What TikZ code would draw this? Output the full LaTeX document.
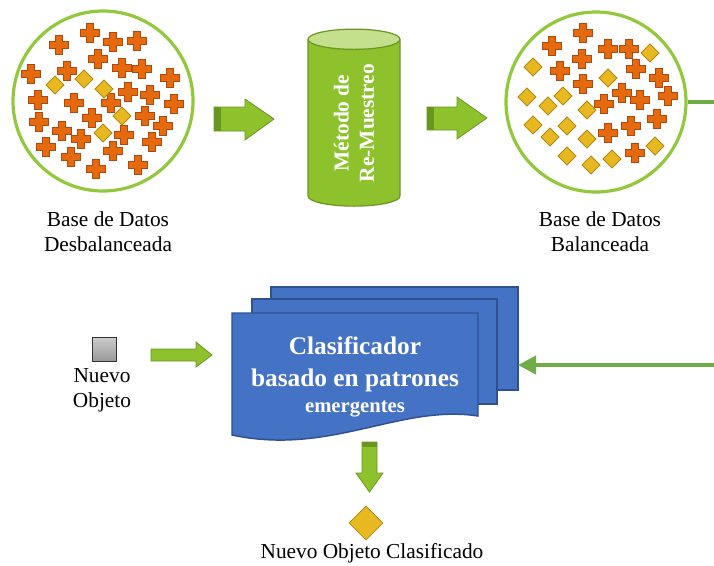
\documentclass[tikz,border=0pt]{standalone}
\usepackage{fontspec}
\setmainfont{Liberation Serif}
\usetikzlibrary{arrows.meta,shapes.geometric}
\definecolor{verdelima}{RGB}{141,194,45}
\definecolor{verdeosc}{RGB}{104,150,32}
\definecolor{verdeclaro}{RGB}{196,224,140}
\definecolor{verdeborde}{RGB}{146,200,60}
\definecolor{verdelinea}{RGB}{112,173,71}
\definecolor{naranja}{RGB}{229,106,14}
\definecolor{naranjaosc}{RGB}{178,72,12}
\definecolor{oro}{RGB}{231,184,32}
\definecolor{oroosc}{RGB}{178,138,18}
\definecolor{azuldoc}{RGB}{68,114,196}
\definecolor{azulosc}{RGB}{47,82,143}

\begin{document}
\begin{tikzpicture}[x=0.75pt,y=-0.75pt,
  base/.style={circle,draw=verdeborde,fill=white,line width=2.4pt,minimum size=135pt,inner sep=0pt},
  lbl/.style={font=\fontsize{16}{18.75}\selectfont,align=center,inner sep=0pt},
  cil/.style={cylinder,rotate=90,aspect=0.5,draw=verdeosc,line width=0.9pt,
    cylinder uses custom fill,cylinder body fill=verdelima,cylinder end fill=verdeclaro,
    minimum height=132.75pt,minimum width=69pt,inner sep=0pt,
    text=white,align=center,font=\fontsize{16}{19}\selectfont\bfseries},
  bloque/.style={fill=verdelima,draw=verdeosc,line width=0.6pt},
  franja/.style={fill=verdeosc,draw=none},
  doc/.style={rectangle,fill=azuldoc,draw=azulosc,line width=1.1pt,inner sep=0pt},
  obj/.style={rectangle,top color=gray!40,bottom color=gray!80,draw=black!80,
    line width=0.6pt,minimum size=18pt,inner sep=0pt},
  res/.style={diamond,fill=oro,draw=oroosc,line width=0.6pt,minimum width=25.5pt,
    minimum height=25.5pt,inner sep=0pt},
  ar/.style={-{Triangle[length=13.5pt,width=13.5pt]},verdelinea,line width=3pt},
  cruz/.pic={\draw[fill=naranja,draw=naranjaosc,line width=0.6pt]
    (-9.5,-3.2) -- (-3.2,-3.2) -- (-3.2,-9.5) -- (3.2,-9.5) -- (3.2,-3.2) -- (9.5,-3.2)
    -- (9.5,3.2) -- (3.2,3.2) -- (3.2,9.5) -- (-3.2,9.5) -- (-3.2,3.2) -- (-9.5,3.2) -- cycle;},
  rombo/.pic={\draw[fill=oro,draw=oroosc,line width=0.6pt]
    (-9,0) -- (0,-9) -- (9,0) -- (0,9) -- cycle;}]

\clip (0,0) rectangle (714,565);

% bases de datos
\node[base] (izq) at (103,101) {};
\node[base] (der) at (596,102) {};

\foreach \x/\y in {90/33,59/45,113/42,137/41,98/59,31/74,67/71,122/68,142/69,170/78,
  128/92,150/95,38/100,74/103,111/103,174/104,145/116,39/122,92/118,163/126,62/131,
  81/139,124/135,46/147,152/142,113/151,71/157,96/169,138/165}
  \pic at (\x,\y) {cruz};
\foreach \x/\y in {55/85,84/79,104/89,122/116,103/133}
  \pic at (\x,\y) {rombo};

\foreach \x/\y in {583/33,552/46,608/49,629/49,582/59,560/71,636/69,659/78,583/84,
  622/93,640/100,668/96,604/104,657/119,631/126,608/133,635/153}
  \pic at (\x,\y) {cruz};
\foreach \x/\y in {650/53,533/67,608/78,527/97,563/96,548/106,587/110,533/125,567/126,
  550/137,587/139,567/156,591/165,612/159,655/146}
  \pic at (\x,\y) {rombo};

\node[lbl] (lizq) at (108,232) {Base de Datos\\Desbalanceada};
\node[lbl] (lder) at (600,232) {Base de Datos\\Balanceada};

% metodo de re-muestreo
\node[cil] (met) at (354,123) {Método de\\Re-Muestreo};

\draw[bloque] (214,107) -- (245,107) -- (245,99) -- (274,119) -- (245,140) -- (245,131)
  -- (214,131) -- cycle;
\fill[franja] (214,107) rectangle (221,131);
\draw[bloque] (427,107) -- (457,107) -- (457,97) -- (487,118) -- (457,139) -- (457,130)
  -- (427,130) -- cycle;
\fill[franja] (427,107) rectangle (434,130);

% clasificador
\node[doc,minimum width=185.25pt,minimum height=77.25pt] (doc3) at (394.5,338.5) {};
\node[doc,minimum width=183.75pt,minimum height=78.75pt] (doc2) at (374.5,351.5) {};
\draw[fill=azuldoc,draw=azulosc,line width=1.1pt] (232,313) -- (478,313) -- (478,416)
  .. controls (400,404) and (330,456) .. (232,435) -- cycle;
\node[text=white,align=center,font=\fontsize{19}{24}\selectfont\bfseries] (clasif) at (355,377)
  {Clasificador\\basado en patrones\\[-4pt]{\fontsize{15.5}{18}\selectfont emergentes}};

\coordinate (giro) at (760,102);
\coordinate (entrada) at (518,365);
\draw[ar] (der.east) -- (giro) |- (entrada);

% nuevo objeto
\node[obj] (nuevo) at (104,349) {};
\node[lbl] (lnuevo) at (102,390) {Nuevo\\Objeto};
\draw[bloque] (151,349) -- (196,349) -- (196,342) -- (212,355) -- (196,367) -- (196,361)
  -- (151,361) -- cycle;

\draw[bloque] (362,442) -- (377,442) -- (377,473) -- (383,473) -- (369.5,492) -- (356,473)
  -- (362,473) -- cycle;
\fill[franja] (362,442) rectangle (377,447);

\node[res] (clasificado) at (366,523) {};
\node[lbl] (lres) at (372,553) {Nuevo Objeto Clasificado};
\end{tikzpicture}
\end{document}
